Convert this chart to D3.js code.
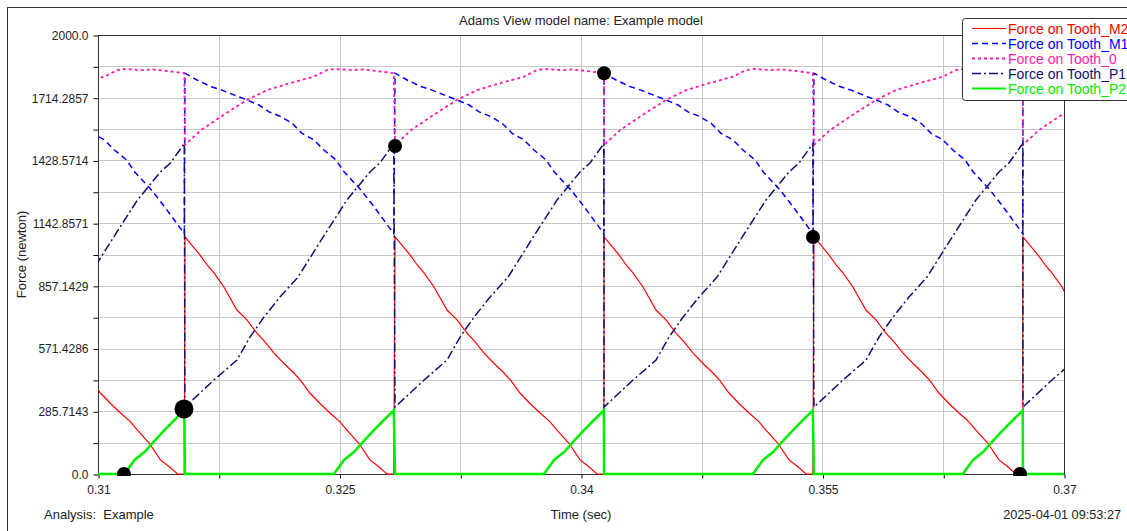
<!DOCTYPE html>
<html>
<head>
<meta charset="utf-8">
<script src="https://cdn.jsdelivr.net/npm/d3@7"></script>
<style>
  body { margin: 0; background: #fff; }
  svg { display: block; font-family: "Liberation Sans", Arial, sans-serif; }
  .tick text { font-size: 12px; fill: #222; }
</style>
</head>
<body>
<div id="chart"></div>
<script>
// x tick labels (sec) and y tick labels (newton)
const xTickLabels = ["0.31", "0.325", "0.34", "0.355", "0.37"];
const yTickLabels = ["0.0", "285.7143", "571.4286", "857.1429", "1142.8571", "1428.5714", "1714.2857", "2000.0"];

// mesh switch times (sec)
const switchTimes = [0.30239, 0.31540, 0.32845, 0.34143, 0.35447, 0.36745];

// one mesh cycle per tooth: [ms after switch, force]
const toothM2 = [[0, 1080], [0.93, 998], [1.40, 950], [1.80, 916], [2.42, 852], [3.23, 747], [3.85, 702], [4.47, 642],
  [5.0, 600], [5.53, 551], [6.2, 500], [6.77, 460], [7.2, 425], [7.76, 369], [8.4, 320], [9.01, 278],
  [9.6, 240], [10.06, 200], [10.8, 140], [11.49, 64], [12.0, 35], [12.55, 0], [12.97, 0]];
const toothM1 = [[0, 1826], [0.75, 1795], [1.61, 1765], [2.30, 1749], [3.04, 1727], [3.85, 1704], [4.60, 1681],
  [5.22, 1650], [5.96, 1628], [6.65, 1598], [7.27, 1552], [8.01, 1522], [8.63, 1476], [9.38, 1431],
  [9.88, 1377], [10.93, 1294], [11.74, 1218], [12.80, 1112], [12.97, 1095]];
const tooth0 = [[0, 1499], [1.0, 1567], [2.4, 1636], [3.85, 1704], [5.1, 1749], [6.5, 1780], [8.0, 1810],
  [8.8, 1840], [9.3, 1845], [10.4, 1840], [11.0, 1843], [11.9, 1836], [12.97, 1826]];
const toothP1 = [[0, 305], [1.80, 428], [3.23, 519], [4.04, 624], [4.91, 715], [5.90, 806], [7.02, 897],
  [8.63, 1085], [10.06, 1248], [11.49, 1376], [12.11, 1417], [12.97, 1505]];
const toothP2 = [[0, 0], [9.25, 0], [9.88, 64], [10.50, 100], [11.06, 146], [11.74, 200], [12.36, 246], [12.97, 290]];

const seriesNames = ["Force on Tooth_M2", "Force on Tooth_M1", "Force on Tooth_0", "Force on Tooth_P1", "Force on Tooth_P2"];
const seriesCycles = [toothM2, toothM1, tooth0, toothP1, toothP2];

// marker points [time, force]
const markers = [[0.31161, 0], [0.31534, 296], [0.32845, 1494], [0.34143, 1826], [0.35441, 1080], [0.36727, 0]];

const styles = [
  { color: "#ff0000", width: 1.2, dash: null },
  { color: "#0000ff", width: 1.5, dash: "6,4" },
  { color: "#ff1aa8", width: 1.8, dash: "3,3" },
  { color: "#10106e", width: 1.5, dash: "9,3,2,3" },
  { color: "#00ee00", width: 2.5, dash: null }
];

const W = 1127, H = 531;
const margin = { left: 98, right: 63, top: 35, bottom: 57 };

const svg = d3.select("#chart").append("svg")
  .attr("width", W)
  .attr("height", H);

// outer frame
svg.append("rect")
  .attr("x", 7.5).attr("y", 7.5)
  .attr("width", 1300).attr("height", 700)
  .attr("fill", "none").attr("stroke", "#333");

let x = d3.scaleLinear().domain([0.31, 0.37]).range([margin.left, W - margin.right]);
let y = d3.scaleLinear().domain([0, 2000]).range([H - margin.bottom, margin.top]);

const xMinor = d3.range(9).map(i => 0.31 + i * 0.0075);
const yMinor = d3.range(15).map(i => i * 2000 / 14);

// grid
svg.append("g").selectAll("line")
  .data(xMinor).enter().append("line")
  .attr("x1", d => Math.round(x(d)) + 0.5).attr("x2", d => Math.round(x(d)) + 0.5)
  .attr("y1", y(0)).attr("y2", y(2000))
  .attr("stroke", "#c8c8c8");
svg.append("g").selectAll("line")
  .data(yMinor).enter().append("line")
  .attr("y1", d => Math.round(y(d)) + 0.5).attr("y2", d => Math.round(y(d)) + 0.5)
  .attr("x1", x(0.31)).attr("x2", x(0.37))
  .attr("stroke", "#c8c8c8");

// axes
let yAxis = d3.axisLeft(y).tickValues(yMinor).tickSize(5)
  .tickFormat((d, i) => i % 2 === 0 ? yTickLabels[i / 2] : "");
svg.append("g")
  .attr("transform", `translate(${Math.round(x(0.31)) + 0.5},0.5)`)
  .call(yAxis)
  .call(g => g.select(".domain").remove())
  .call(g => g.selectAll(".tick text").attr("x", -10));

let xAxis = d3.axisBottom(x).tickValues(xMinor).tickSize(4)
  .tickFormat((d, i) => i % 2 === 0 ? xTickLabels[i / 2] : "");
svg.append("g")
  .attr("transform", `translate(0.5,${Math.round(y(0)) + 0.5})`)
  .call(xAxis)
  .call(g => g.select(".domain").remove())
  .call(g => g.selectAll(".tick text").attr("y", 11));

// plot border
svg.append("rect")
  .attr("x", Math.round(x(0.31)) + 0.5).attr("y", Math.round(y(2000)) + 0.5)
  .attr("width", Math.round(x(0.37)) - Math.round(x(0.31)))
  .attr("height", Math.round(y(0)) - Math.round(y(2000)))
  .attr("fill", "none").attr("stroke", "#333");

svg.append("clipPath").attr("id", "plotclip")
  .append("rect")
  .attr("x", x(0.31)).attr("y", y(2000) - 2)
  .attr("width", x(0.37) - x(0.31)).attr("height", y(0) - y(2000) + 4);

let line = d3.line().x(d => x(d[0])).y(d => y(d[1]));

// each tooth curve repeats its cycle after every switch
const seriesData = seriesCycles.map(cycle => {
  let pts = [];
  switchTimes.forEach(s => {
    cycle.forEach(p => pts.push([s + p[0] / 1000, p[1]]));
  });
  return pts;
});

let plot = svg.append("g").attr("clip-path", "url(#plotclip)");
plot.selectAll("path.curve")
  .data(seriesData).enter().append("path")
  .attr("class", "curve")
  .attr("d", d => line(d))
  .attr("fill", "none")
  .attr("stroke", (d, i) => styles[i].color)
  .attr("stroke-width", (d, i) => styles[i].width)
  .attr("stroke-dasharray", (d, i) => styles[i].dash);

plot.selectAll("circle")
  .data(markers).enter().append("circle")
  .attr("cx", d => x(d[0]))
  .attr("cy", d => y(d[1]))
  .attr("r", (d, i) => i === 1 ? 9.5 : 7)
  .attr("fill", "#000");

// texts
svg.append("text")
  .attr("x", (x(0.31) + x(0.37)) / 2).attr("y", 25)
  .attr("text-anchor", "middle").attr("font-size", 13).attr("fill", "#222")
  .text("Adams View model name: Example model");

svg.append("text")
  .attr("transform", `translate(26,${(y(0) + y(2000)) / 2}) rotate(-90)`)
  .attr("text-anchor", "middle").attr("font-size", 13).attr("fill", "#222")
  .text("Force (newton)");

svg.append("text")
  .attr("x", (x(0.31) + x(0.37)) / 2).attr("y", 519)
  .attr("text-anchor", "middle").attr("font-size", 13).attr("fill", "#222")
  .text("Time (sec)");

svg.append("text")
  .attr("x", 44).attr("y", 519)
  .attr("font-size", 13).attr("fill", "#222")
  .attr("xml:space", "preserve")
  .text("Analysis:  Example");

svg.append("text")
  .attr("x", 1121).attr("y", 519)
  .attr("text-anchor", "end").attr("font-size", 12.7).attr("fill", "#222")
  .text("2025-04-01 09:53:27");

// legend
let legend = svg.append("g");
legend.append("rect")
  .attr("x", 962.5).attr("y", 18.5)
  .attr("width", 200).attr("height", 82)
  .attr("rx", 3)
  .attr("fill", "#fff").attr("stroke", "#333");

let item = legend.selectAll("g.item")
  .data(seriesNames).enter().append("g")
  .attr("class", "item")
  .attr("transform", (d, i) => `translate(0,${28.5 + i * 15})`);

item.append("line")
  .attr("x1", 972).attr("x2", 1006)
  .attr("stroke", (d, i) => styles[i].color)
  .attr("stroke-width", (d, i) => Math.min(styles[i].width, 2))
  .attr("stroke-dasharray", (d, i) => styles[i].dash);

item.append("text")
  .attr("x", 1008).attr("y", 5)
  .attr("font-size", 14)
  .attr("fill", (d, i) => styles[i].color)
  .text(d => d);
</script>
</body>
</html>
